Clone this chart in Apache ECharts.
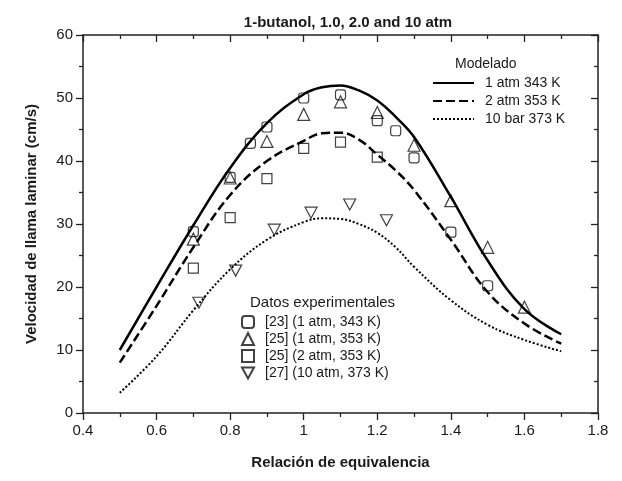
<!DOCTYPE html>
<html><head><meta charset="utf-8">
<script src="https://cdn.jsdelivr.net/npm/echarts@6/dist/echarts.min.js"></script>
<style>html,body{margin:0;padding:0;background:#fff}#c{width:622px;height:481px}</style>
</head><body><div id="c"></div>
<script>
// Model curves (equivalence ratio -> laminar flame speed, cm/s)
const phiModel = [0.5,0.6,0.7,0.8,0.9,1.0,1.05,1.1,1.15,1.2,1.25,1.3,1.4,1.5,1.6,1.7];
const model1atm343 = [10.0,20.0,29.8,38.9,46.0,50.6,51.7,52.0,51.2,49.6,47.0,43.8,34.3,24.2,16.5,12.5];
const model2atm353 = [8.0,17.0,26.3,34.6,40.0,43.2,44.4,44.5,43.4,41.0,38.5,35.4,27.5,19.2,14.2,11.0];
const model10bar373 = [3.2,9.0,16.3,22.8,27.5,30.3,30.9,30.8,30.0,28.6,26.3,23.2,17.9,14.0,11.6,9.8];

// Experimental data
const ref23_phi = [0.70,0.80,0.855,0.90,1.00,1.10,1.20,1.25,1.30,1.40,1.50];
const ref23_su  = [28.8,37.4,42.8,45.4,50.0,50.5,46.4,44.8,40.5,28.7,20.2];
const ref25a_phi = [0.70,0.80,0.90,1.00,1.10,1.20,1.30,1.40,1.50,1.60];
const ref25a_su  = [27.6,37.3,43.1,47.4,49.4,47.7,42.5,33.7,26.3,16.8];
const ref25b_phi = [0.70,0.80,0.90,1.00,1.10,1.20];
const ref25b_su  = [23.0,31.0,37.2,42.0,43.0,40.6];
const ref27_phi = [0.715,0.815,0.92,1.02,1.125,1.225];
const ref27_su  = [17.5,22.6,29.1,31.8,33.1,30.6];

const modelNames = ['1 atm 343 K','2 atm 353 K','10 bar 373 K'];
const expNames = ['[23] (1 atm, 343 K)','[25] (1 atm, 353 K)','[25] (2 atm, 353 K)','[27] (10 atm, 373 K)'];

const zip = (a,b) => a.map((v,i)=>[v,b[i]]);
const FONT = 'Liberation Sans, Arial, sans-serif';
const TXT = '#1a1a1a';

function xAx(top){
  return {
    type:'value', min:0.4, max:1.8, interval:0.2, position: top?'top':'bottom',
    axisLine:{show:true,onZero:false,lineStyle:{color:'#222',width:1.5}},
    axisTick:{show:true,inside:top,length:7,lineStyle:{color:'#222',width:1.3}},
    minorTick:{show:true,splitNumber:2,length:4,lineStyle:{color:'#222',width:1.3}},
    splitLine:{show:false},
    axisLabel:{show:!top,fontFamily:FONT,fontSize:15,color:TXT,margin:10},
    name: top?'':'Relación de equivalencia', nameLocation:'middle', nameGap:42,
    nameTextStyle:{fontFamily:FONT,fontSize:15,fontWeight:'bold',color:TXT}
  };
}
function yAx(right){
  return {
    type:'value', min:0, max:60, interval:10, position: right?'right':'left',
    axisLine:{show:true,onZero:false,lineStyle:{color:'#222',width:1.5}},
    axisTick:{show:true,inside:right,length:7,lineStyle:{color:'#222',width:1.3}},
    minorTick:{show:true,splitNumber:2,length:4,lineStyle:{color:'#222',width:1.3}},
    splitLine:{show:false},
    axisLabel:{show:!right,fontFamily:FONT,fontSize:15,color:TXT,margin:10},
    name: right?'':'Velocidad de llama laminar (cm/s)', nameLocation:'middle', nameGap:44,
    nameTextStyle:{fontFamily:FONT,fontSize:15,fontWeight:'bold',color:TXT}
  };
}

const hollow = {color:'rgba(0,0,0,0)',borderColor:'#111',borderWidth:1.2};
const downTri = 'path://M0,0L12,0L6,11Z';

const option = {
  animation:false,
  backgroundColor:'#fff',
  title:{text:'1-butanol, 1.0, 2.0 and 10 atm',left:343,textAlign:'center',top:10,
    textStyle:{fontFamily:FONT,fontSize:15,fontWeight:'bold',color:TXT}},
  grid:{left:83,right:24,top:35,bottom:68},
  xAxis:[xAx(false),xAx(true)],
  yAxis:[yAx(false),yAx(true)],
  legend:[
    {data:modelNames,orient:'vertical',left:432,top:76,padding:0,itemWidth:41,itemHeight:14,itemGap:4,
      itemStyle:{opacity:0},
      textStyle:{fontFamily:FONT,fontSize:14,color:TXT,padding:[0,0,0,6],lineHeight:14}},
    {data:expNames,orient:'vertical',left:241,top:315,padding:0,itemWidth:12,itemHeight:12,itemGap:3,
      textStyle:{fontFamily:FONT,fontSize:14,color:TXT,padding:[0,0,0,6],lineHeight:12}}
  ],
  graphic:[
    {type:'text',left:455,top:57,style:{text:'Modelado',font:'14px '+FONT,fill:TXT}},
    {type:'text',left:250,top:295,style:{text:'Datos experimentales',font:'15px '+FONT,fill:TXT}}
  ],
  series:[
    {name:modelNames[0],type:'line',data:zip(phiModel,model1atm343),smooth:0.4,symbol:'none',
      lineStyle:{color:'#000',width:2.5,type:'solid'},itemStyle:{color:'#000'}},
    {name:modelNames[1],type:'line',data:zip(phiModel,model2atm353),smooth:0.4,symbol:'none',
      lineStyle:{color:'#000',width:2.5,type:[9,4]},itemStyle:{color:'#000'}},
    {name:modelNames[2],type:'line',data:zip(phiModel,model10bar373),smooth:0.4,symbol:'none',
      lineStyle:{color:'#000',width:2,type:[2,2]},itemStyle:{color:'#000'}},
    {name:expNames[0],type:'scatter',data:zip(ref23_phi,ref23_su),symbol:'roundRect',symbolSize:10,itemStyle:hollow},
    {name:expNames[1],type:'scatter',data:zip(ref25a_phi,ref25a_su),symbol:'triangle',symbolSize:12,itemStyle:hollow},
    {name:expNames[2],type:'scatter',data:zip(ref25b_phi,ref25b_su),symbol:'rect',symbolSize:10,itemStyle:hollow},
    {name:expNames[3],type:'scatter',data:zip(ref27_phi,ref27_su),symbol:downTri,symbolSize:[12,11],itemStyle:hollow}
  ]
};
const chart = echarts.init(document.getElementById('c'),null,{renderer:'canvas'});
chart.setOption(option);
</script>
</body></html>
